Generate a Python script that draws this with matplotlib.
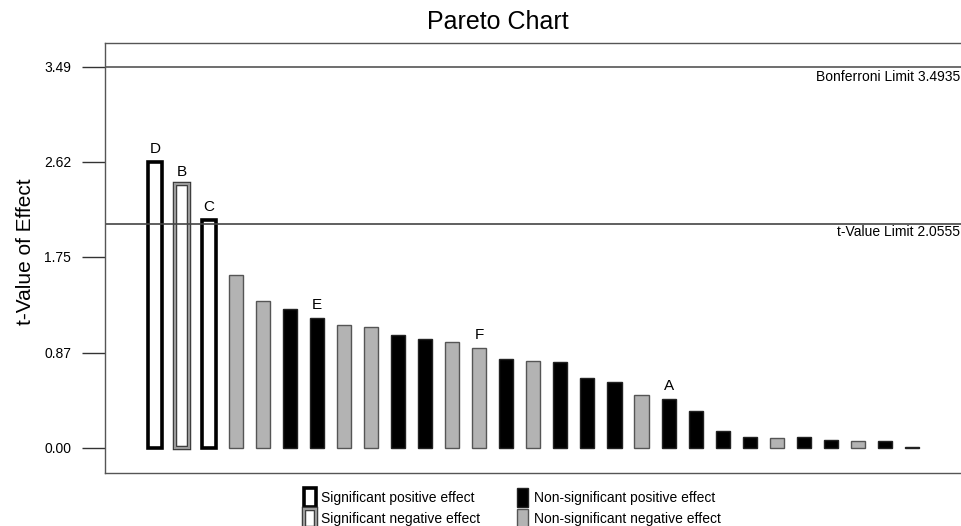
import matplotlib.pyplot as plt
from matplotlib.patches import Patch
from matplotlib.transforms import blended_transform_factory

plt.rcParams['font.family'] = ['Liberation Sans', 'DejaVu Sans']

# t-values of the effects, sorted as in the chart
t_values = [2.62, 2.415, 2.088, 1.587, 1.349, 1.276, 1.193, 1.129, 1.111, 1.032,
            0.998, 0.968, 0.919, 0.812, 0.797, 0.790, 0.638, 0.604, 0.488, 0.449,
            0.342, 0.159, 0.100, 0.094, 0.100, 0.076, 0.067, 0.064, 0.006]
# SP = significant positive, SN = significant negative,
# NP = non-significant positive, NN = non-significant negative
effect_type = ["SP", "SN", "SP", "NN", "NN", "NP", "NP", "NN", "NN", "NP",
               "NP", "NN", "NN", "NP", "NN", "NP", "NP", "NP", "NN", "NP",
               "NP", "NP", "NP", "NN", "NP", "NP", "NN", "NP", "NP"]
bar_labels = ["D", "B", "C", "", "", "", "E", "", "", "",
              "", "", "F", "", "", "", "", "", "", "A",
              "", "", "", "", "", "", "", "", ""]
y_ticks = [0.00, 0.87, 1.75, 2.62, 3.49]
t_limit = 2.0555
bonferroni_limit = 3.4935

fig = plt.figure(figsize=(9.61, 5.26), dpi=100)
ax = fig.add_axes([0.1093, 0.1008, 0.8917, 0.8175])

gray = "#b3b3b3"
w = 0.52
for i, (v, kind) in enumerate(zip(t_values, effect_type)):
    if kind == "SP":
        ax.bar(i, v, width=w, color="white", edgecolor="black", linewidth=2.6)
    elif kind == "SN":
        ax.bar(i, v, width=w, color="white", edgecolor="#333333", linewidth=3.2)
        ax.bar(i, v, width=w, color="none", edgecolor="#9a9a9a", linewidth=1.6)
    elif kind == "NP":
        ax.bar(i, v, width=w, color="black", edgecolor="#222222", linewidth=1.0)
    else:
        ax.bar(i, v, width=w, color=gray, edgecolor="#555555", linewidth=1.0)
    if bar_labels[i]:
        ax.annotate(bar_labels[i], (i, v), xytext=(0, 4), textcoords="offset points",
                    ha="center", va="bottom", fontsize=11)

ax.axhline(bonferroni_limit, color="#555555", linewidth=1.2)
ax.axhline(t_limit, color="#444444", linewidth=1.2)
trans = blended_transform_factory(ax.transAxes, ax.transData)
ax.text(0.998, bonferroni_limit - 0.1, "Bonferroni Limit 3.4935", transform=trans,
        ha="right", va="center", fontsize=10)
ax.text(0.998, t_limit - 0.08, "t-Value Limit 2.0555", transform=trans,
        ha="right", va="center", fontsize=10)

ax.set_xlim(-1.84, 29.85)
ax.set_ylim(-0.229, 3.709)
ax.set_xticks([])
ax.set_yticks(y_ticks)
ax.set_yticklabels([f"{t:.2f}" for t in y_ticks], fontsize=10)
ax.tick_params(axis="y", length=16.5, width=1.0, color="#333333", pad=8)
for side in ["left", "top", "bottom"]:
    ax.spines[side].set_color("#555555")
    ax.spines[side].set_linewidth(1.0)
ax.spines["right"].set_visible(False)

fig.text(0.518, 0.958, "Pareto Chart", ha="center", va="center", fontsize=18)
fig.text(0.027, 0.521, "t-Value of Effect", ha="center", va="center",
         rotation=90, fontsize=15)

handles = [
    Patch(facecolor="white", edgecolor="black", linewidth=2.6),
    (Patch(facecolor="white", edgecolor="#333333", linewidth=3.2),
     Patch(facecolor="none", edgecolor="#9a9a9a", linewidth=1.6)),
    Patch(facecolor="black", edgecolor="#222222"),
    Patch(facecolor=gray, edgecolor="#555555"),
]
names = ["Significant positive effect", "Significant negative effect",
         "Non-significant positive effect", "Non-significant negative effect"]
fig.legend(handles, names, ncol=2, loc="upper left",
           bbox_to_anchor=(304 / 961, 1 - 488 / 526), frameon=False,
           fontsize=10, handlelength=0.85, handleheight=1.75, handletextpad=0.4,
           labelspacing=0.12, columnspacing=2.6, borderpad=0, borderaxespad=0)

plt.savefig("out.png", dpi=100)
